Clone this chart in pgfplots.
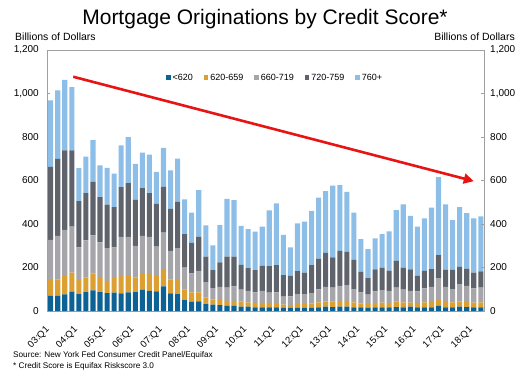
\documentclass[border=0pt]{standalone}
\usepackage{fontspec}
\setmainfont{Liberation Sans}
\usepackage{pgfplots}
\pgfplotsset{compat=1.18}
\usepackage{pgfplotstable}
\usetikzlibrary{arrows.meta}

\definecolor{cA}{RGB}{12,98,148}
\definecolor{cB}{RGB}{220,160,50}
\definecolor{cC}{RGB}{165,165,170}
\definecolor{cD}{RGB}{95,99,108}
\definecolor{cE}{RGB}{140,190,232}
\definecolor{axgray}{RGB}{160,160,160}
\definecolor{arrowred}{RGB}{232,20,20}

\pgfplotstableread{
x a b c d e
0 69 73 185 336 305
1 70 75 200 354 315
2 76 86 211 365 325
3 89 88 211 350 291
4 78 64 150 213 152
5 87 67 171 217 168
6 95 78 175 246 192
7 87 70 158 209 146
8 82 57 150 200 169
9 84 67 141 186 154
10 81 81 179 229 192
11 86 76 179 247 211
12 87 67 145 213 164
13 98 76 171 220 163
14 93 77 171 201 177
15 90 75 131 196 148
16 113 76 171 211 179
17 81 64 131 194 177
18 78 64 147 213 199
19 50 48 102 153 160
20 43 43 87 140 139
21 44 42 99 157 214
22 32 31 70 117 144
23 29 24 52 83 114
24 27 23 61 112 172
25 24 23 61 142 266
26 23 24 66 137 260
27 20 23 55 114 179
28 20 20 53 104 180
29 17 20 49 102 177
30 17 20 56 115 180
31 17 20 48 121 257
32 17 20 49 125 284
33 14 15 37 99 185
34 14 13 40 95 130
35 15 17 46 105 220
36 15 17 46 99 234
37 14 21 47 129 249
38 17 23 59 142 280
39 20 24 67 156 284
40 18 25 64 139 331
41 20 27 69 160 303
42 20 27 72 153 276
43 17 23 61 134 217
44 17 18 51 94 150
45 14 18 43 76 133
46 17 20 53 101 143
47 17 21 58 103 154
48 17 20 56 93 180
49 18 25 64 124 233
50 17 23 58 102 290
51 20 18 55 98 246
52 17 20 53 72 226
53 17 23 64 81 241
54 17 24 70 81 283
55 24 26 101 106 358
56 17 24 70 78 301
57 17 23 61 88 229
58 20 23 81 79 275
59 18 23 75 79 255
60 17 21 66 73 249
61 17 23 68 74 253
}\data

\begin{document}
\begin{tikzpicture}
\path[use as bounding box] (0pt,0pt) rectangle (524pt,375pt);
\node[font=\fontsize{21}{24}\selectfont] at (265pt,356pt) {Mortgage Originations by Credit Score*};
\node[anchor=west, font=\fontsize{10.5}{12}\selectfont, inner sep=0pt] at (15pt,338pt) {Billions of Dollars};
\node[anchor=east, font=\fontsize{10.5}{12}\selectfont, inner sep=0pt] at (515pt,338pt) {Billions of Dollars};
\node[anchor=west, font=\fontsize{8.2}{10}\selectfont, inner sep=0pt] at (13pt,20pt) {Source: New York Fed Consumer Credit Panel/Equifax};
\node[anchor=west, font=\fontsize{8.2}{10}\selectfont, inner sep=0pt] at (13pt,9pt) {* Credit Score is Equifax Riskscore 3.0};

\begin{axis}[
  at={(47pt,64pt)}, anchor=south west,
  scale only axis, width=437pt, height=261pt,
  ybar stacked, bar width=0.72,
  xmin=-0.52, xmax=61.45,
  ymin=0, ymax=1200,
  ytick={0,200,...,1200},
  axis line style={axgray},
  tick style={axgray},
  major tick length=3pt,
  xtick={0,4,...,60},
  xticklabels={03:Q1,04:Q1,05:Q1,06:Q1,07:Q1,08:Q1,09:Q1,10:Q1,11:Q1,12:Q1,13:Q1,14:Q1,15:Q1,16:Q1,17:Q1,18:Q1},
  x tick style={draw=none},
  xticklabel style={rotate=45, anchor=north east, inner sep=1pt, font=\fontsize{9.5}{11}\selectfont, xshift=-13pt, yshift=-5pt},
  yticklabel style={font=\fontsize{10}{12}\selectfont, inner sep=0pt, xshift=-8pt},
  ytick pos=left,
  /pgf/number format/.cd, 1000 sep={,}, assume math mode=true,
  /pgfplots/.cd,
  legend columns=-1,
  legend style={draw=none, fill=none, at={(0.522,0.893)}, anchor=center,
    font=\fontsize{9}{10}\selectfont,
    /tikz/every even column/.append style={column sep=9pt}},
  legend image code/.code={\fill[#1] (0pt,-2pt) rectangle (4.5pt,2.5pt);},
  every axis plot/.append style={draw=none},
]
\addplot[fill=cA] table[x=x,y=a] {\data};
\addplot[fill=cB] table[x=x,y=b] {\data};
\addplot[fill=cC] table[x=x,y=c] {\data};
\addplot[fill=cD] table[x=x,y=d] {\data};
\addplot[fill=cE] table[x=x,y=e] {\data};
\legend{<620,620-659,660-719,720-759,760+}
\draw[arrowred, line width=2.6pt, -{Triangle[length=10pt,width=10pt]}] (axis cs:3.2,1077) -- (axis cs:60,597);
\end{axis}

\begin{axis}[
  at={(47pt,64pt)}, anchor=south west,
  scale only axis, width=437pt, height=261pt,
  xmin=-0.52, xmax=61.45,
  ymin=0, ymax=1200,
  ytick={0,200,...,1200},
  axis x line=none,
  axis y line*=right,
  axis line style={axgray},
  tick style={axgray},
  major tick length=3pt,
  yticklabel style={font=\fontsize{10}{12}\selectfont, inner sep=0pt, xshift=6pt, anchor=west},
  /pgf/number format/.cd, 1000 sep={,}, assume math mode=true,
]
\addplot[draw=none] coordinates {(0,0)};
\end{axis}
\end{tikzpicture}
\end{document}
